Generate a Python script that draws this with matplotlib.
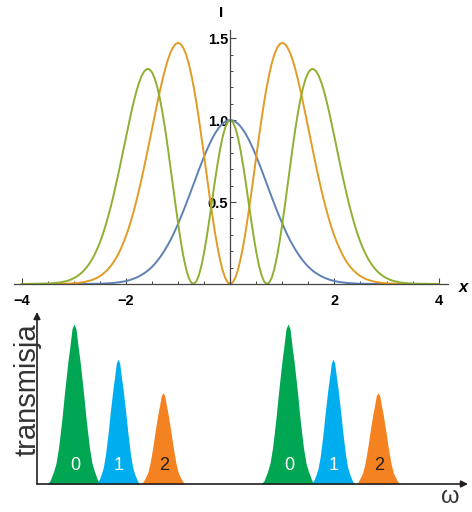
import numpy as np
import matplotlib
matplotlib.use("Agg")
import matplotlib.pyplot as plt
from matplotlib.ticker import MultipleLocator, FixedLocator

plt.rcParams["font.family"] = ["Liberation Sans", "DejaVu Sans"]

# --- top panel: intensity profiles I(x) (x >= 0, curves are symmetric)
x_half = np.append(np.linspace(0, 3.5, 71), 4.0)
blue_half = [1.000, 0.998, 0.990, 0.978, 0.961, 0.939, 0.914, 0.885, 0.852, 0.817,
             0.779, 0.739, 0.698, 0.655, 0.613, 0.570, 0.527, 0.486, 0.445, 0.406,
             0.368, 0.332, 0.298, 0.266, 0.237, 0.210, 0.185, 0.162, 0.141, 0.122,
             0.105, 0.090, 0.077, 0.066, 0.056, 0.047, 0.039, 0.033, 0.027, 0.022,
             0.018, 0.015, 0.012, 0.010, 0.008, 0.006, 0.005, 0.004, 0.003, 0.002,
             0.002, 0.0015, 0.001, 0.001, 0.0007, 0.0005, 0.0004, 0.0003, 0.0002, 0.0002,
             0.0001, 0, 0, 0, 0, 0, 0, 0, 0, 0,
             0, 0]
orange_half = [0.000, 0.010, 0.040, 0.088, 0.154, 0.235, 0.329, 0.434, 0.545, 0.662,
               0.779, 0.894, 1.005, 1.108, 1.201, 1.282, 1.350, 1.403, 1.441, 1.464,
               1.472, 1.464, 1.443, 1.410, 1.365, 1.310, 1.247, 1.178, 1.104, 1.027,
               0.949, 0.870, 0.792, 0.716, 0.643, 0.573, 0.508, 0.447, 0.391, 0.339,
               0.293, 0.252, 0.215, 0.182, 0.153, 0.128, 0.107, 0.088, 0.073, 0.059,
               0.048, 0.039, 0.031, 0.025, 0.020, 0.016, 0.012, 0.0096, 0.0074, 0.0058,
               0.0044, 0.0034, 0.0026, 0.0019, 0.0015, 0.0011, 0.0008, 0.0006, 0.0004, 0.0003,
               0.0002, 0]
green_half = [1.000, 0.988, 0.951, 0.892, 0.813, 0.719, 0.615, 0.504, 0.394, 0.289,
              0.195, 0.115, 0.055, 0.016, 0.000, 0.009, 0.041, 0.096, 0.171, 0.263,
              0.368, 0.482, 0.601, 0.721, 0.837, 0.947, 1.045, 1.131, 1.201, 1.255,
              1.291, 1.310, 1.312, 1.298, 1.270, 1.228, 1.176, 1.115, 1.047, 0.973,
              0.898, 0.820, 0.744, 0.668, 0.596, 0.527, 0.463, 0.404, 0.349, 0.299,
              0.255, 0.216, 0.182, 0.152, 0.126, 0.104, 0.085, 0.069, 0.056, 0.045,
              0.036, 0.028, 0.022, 0.017, 0.014, 0.010, 0.008, 0.006, 0.005, 0.0035,
              0.0026, 0]

x_ticks = [-4, -2, 0, 2, 4]
x_ticklabels = ["\u22124", "\u22122", "", "2", "4"]
y_ticks = [0.5, 1.0, 1.5]
y_ticklabels = ["0.5", "1.0", "1.5"]

# --- bottom panel: transmission peaks (omega in arbitrary units)
peak_centers = [37, 81, 126, 251, 296, 341]
peak_heights = [1.0, 0.78, 0.57, 1.0, 0.78, 0.57]
peak_widths = [1.0, 0.82, 0.84, 1.0, 0.82, 0.84]
peak_labels = ["0", "1", "2", "0", "1", "2"]
profile_offset = [0, 2, 4.3, 6, 8.3, 10, 11.7, 13.5, 15.5, 18, 20.5, 24, 27]
profile_level = [1.0, 0.97, 0.85, 0.77, 0.64, 0.54, 0.43, 0.33, 0.225, 0.13, 0.077, 0.02, 0.0]

W, H = 472, 512
fig = plt.figure(figsize=(W / 100, H / 100), dpi=100)


def mirror(xh, yh):
    xh = np.asarray(xh, float); yh = np.asarray(yh, float)
    return np.concatenate([-xh[:0:-1], xh]), np.concatenate([yh[:0:-1], yh])


# ---------------- top panel
ax = fig.add_axes([14 / W, 1 - 284 / H, (448 - 14) / W, (284 - 30) / H])
ax.set_xlim(-4.15, 4.18)
ax.set_ylim(0, 1.55)
for yh, col in [(blue_half, "#5E81B5"), (orange_half, "#E19C24"), (green_half, "#8FB032")]:
    xs, ys = mirror(x_half, yh)
    ax.plot(xs, ys, color=col, lw=1.4, clip_on=False, solid_joinstyle="round")

axcol = "#444444"
ax.spines["top"].set_visible(False)
ax.spines["right"].set_visible(False)
ax.spines["left"].set_position(("data", 0))
ax.spines["bottom"].set_position(("data", 0))
for s in ("left", "bottom"):
    ax.spines[s].set_color(axcol)
    ax.spines[s].set_linewidth(0.9)
ax.xaxis.set_major_locator(FixedLocator(x_ticks))
ax.xaxis.set_minor_locator(MultipleLocator(0.5))
ax.yaxis.set_major_locator(FixedLocator(y_ticks))
ax.yaxis.set_minor_locator(MultipleLocator(0.1))
ax.set_xticklabels(x_ticklabels)
ax.set_yticklabels(y_ticklabels)
ax.tick_params(which="major", direction="in", length=4, width=0.8, color=axcol,
               labelsize=10.5, pad=7)
ax.tick_params(which="minor", direction="in", length=2.5, width=0.7, color=axcol)
ax.tick_params(axis="y", which="major", pad=1.5)
for lab in ax.get_xticklabels() + ax.get_yticklabels():
    lab.set_fontweight("bold")
ax.patch.set_visible(False)

fig.text(221 / W, 1 - 13 / H, "I", fontsize=11, fontweight="bold", ha="center", va="center")
fig.text(463 / W, 1 - 288 / H, "x", fontsize=12, fontweight="bold", style="italic",
         ha="center", va="center")

# ---------------- bottom panel
bx = fig.add_axes([37 / W, 1 - 484 / H, (468 - 37) / W, (484 - 312) / H])
bx.set_xlim(0, 431)
bx.set_ylim(0, 1.075)
bx.axis("off")

peak_colors = ["#00A651", "#00AEEF", "#F58220"] * 2
label_colors = ["white", "white", "#231F20"] * 2
off = np.asarray(profile_offset, float)
lev = np.asarray(profile_level, float)
for c, h, w, lab, fc, lc in zip(peak_centers, peak_heights, peak_widths, peak_labels,
                                peak_colors, label_colors):
    xo, yo = mirror(off * w, lev)
    bx.fill_between(c + xo, 0, h * yo, color=fc, lw=0)
    bx.text(c + 1, 0.114, lab, color=lc, fontsize=13, ha="center", va="center")

arr = dict(arrowstyle="-|>", color="#231F20", lw=1.2, shrinkA=0, shrinkB=0, mutation_scale=10)
bx.annotate("", xy=(1, 0), xytext=(0, 0), xycoords="axes fraction", arrowprops=arr)
bx.annotate("", xy=(0, 1), xytext=(0, 0), xycoords="axes fraction", arrowprops=arr)

fig.text(27 / W, 1 - 390 / H, "transmisja", rotation=90, fontsize=21, color="#333333",
         ha="center", va="center")
fig.text(450 / W, 1 - 497 / H, "\u03c9", fontsize=17, color="#333333", ha="center", va="center")

fig.savefig("out.png", dpi=100)
